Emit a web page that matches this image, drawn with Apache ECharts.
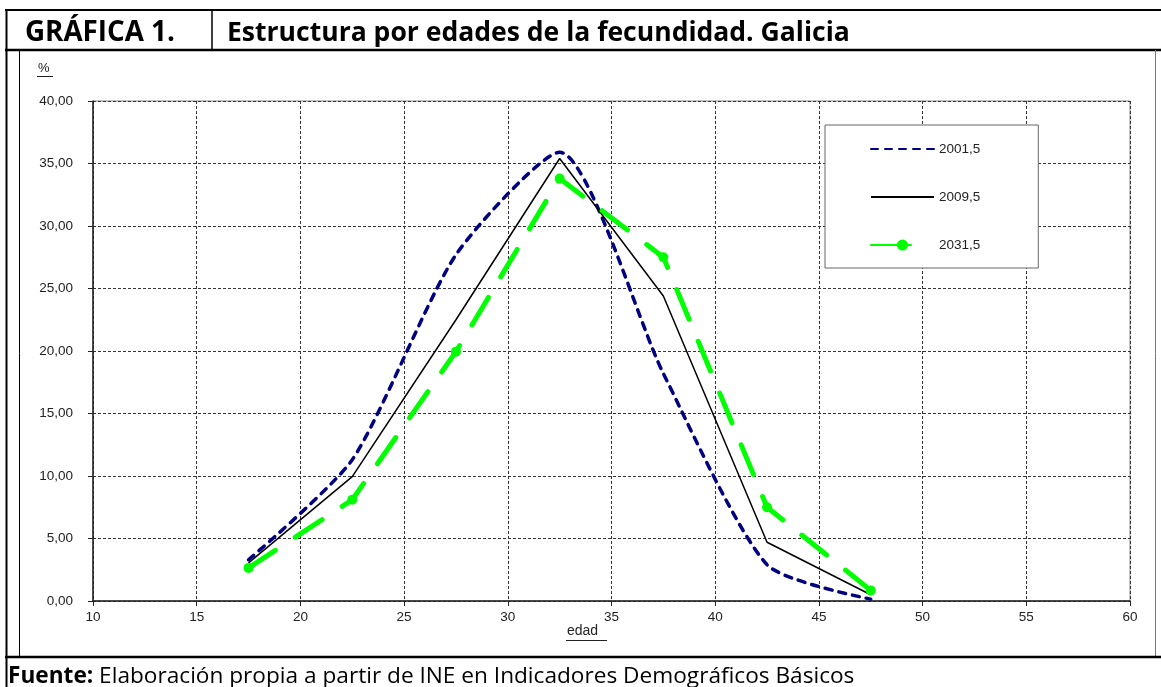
<!DOCTYPE html>
<html>
<head>
<meta charset="utf-8">
<script src="https://cdn.jsdelivr.net/npm/echarts@6/dist/echarts.min.js"></script>
<style>
html,body{margin:0;padding:0;background:#fff;}
#c{width:1161px;height:687px;}
</style>
</head>
<body>
<div id="c"></div>
<script>
// ---- data ----
const ages = [17.5, 22.5, 27.5, 32.5, 37.5, 42.5, 47.5];
const s2001 = [3.3, 11.3, 27.7, 35.9, 18.2, 2.9, 0.15];
const s2009 = [3.05, 9.95, 22.5, 35.4, 24.4, 4.7, 0.5];
const s2031 = [2.65, 8.1, 19.95, 33.8, 27.5, 7.5, 0.85];
const seriesNames = ['2001,5', '2009,5', '2031,5'];
const titleLeft = 'GRÁFICA 1.';
const titleRight = 'Estructura por edades de la fecundidad. Galicia';
const sourceLabel = 'Fuente:';
const sourceText = ' Elaboración propia a partir de INE en Indicadores Demográficos Básicos';
const yUnit = '%';
const xName = 'edad';

const pair = (vals) => ages.map((a, i) => [a, vals[i]]);
const headFont = '"Open Sans", Lato, sans-serif';
const axisFont = 'Arial, "Liberation Sans", sans-serif';

// fit a font size so text spans a target width
const ctx = document.createElement('canvas').getContext('2d');
function measure(txt, size, weight) {
  ctx.font = (weight || 'normal') + ' ' + size + 'px ' + headFont;
  return ctx.measureText(txt).width;
}
function fit(txt, target, weight) {
  return 20 * target / measure(txt, 20, weight);
}
const tl = fit(titleLeft, 150, 'bold');
const tr = fit(titleRight, 623, 'bold');
const fw = measure(sourceLabel, 20, 'bold') + measure(sourceText, 20, 'normal');
const fs = 20 * 847 / fw;

const chart = echarts.init(document.getElementById('c'), null, {renderer: 'canvas'});
chart.setOption({
  animation: false,
  backgroundColor: '#fff',
  grid: {left: 93, right: 31, top: 101, bottom: 86, show: true, borderColor: '#8a8a8a', borderWidth: 1},
  xAxis: {
    type: 'value', min: 10, max: 60, interval: 5,
    axisLine: {show: true, lineStyle: {color: '#222', width: 1.5}},
    axisTick: {show: true, length: 5, lineStyle: {color: '#222'}},
    axisLabel: {color: '#222', fontSize: 13.5, fontFamily: axisFont, margin: 9},
    splitLine: {show: true, lineStyle: {color: '#333', type: [3, 2], width: 1}}
  },
  yAxis: {
    type: 'value', min: 0, max: 40, interval: 5,
    axisLine: {show: true, lineStyle: {color: '#222', width: 1.5}},
    axisTick: {show: true, length: 5, lineStyle: {color: '#222'}},
    axisLabel: {color: '#222', fontSize: 13.5, fontFamily: axisFont, margin: 20,
      formatter: v => v.toFixed(2).replace('.', ',')},
    splitLine: {show: true, lineStyle: {color: '#333', type: [3, 2], width: 1}}
  },
  legend: {
    data: [
      {name: seriesNames[0], itemStyle: {opacity: 0}},
      {name: seriesNames[1], itemStyle: {opacity: 0}},
      {name: seriesNames[2], lineStyle: {type: [40, 40]}}
    ],
    orient: 'vertical', left: 825, top: 125,
    padding: [17, 58, 16, 45], itemWidth: 63, itemHeight: 14, itemGap: 34,
    borderColor: '#666', borderWidth: 1, backgroundColor: '#fff',
    textStyle: {color: '#222', fontSize: 13.5, fontFamily: axisFont}
  },
  graphic: [
    {type: 'line', shape: {x1: 5, y1: 10, x2: 1161, y2: 10}, style: {stroke: '#000', lineWidth: 2}},
    {type: 'line', shape: {x1: 5, y1: 50, x2: 1161, y2: 50}, style: {stroke: '#000', lineWidth: 2.5}},
    {type: 'line', shape: {x1: 212, y1: 10, x2: 212, y2: 50}, style: {stroke: '#000', lineWidth: 1.5}},
    {type: 'line', shape: {x1: 6.5, y1: 9, x2: 6.5, y2: 687}, style: {stroke: '#000', lineWidth: 2}},
    {type: 'line', shape: {x1: 19.5, y1: 50, x2: 19.5, y2: 657}, style: {stroke: '#000', lineWidth: 1}},
    {type: 'line', shape: {x1: 1155.5, y1: 50, x2: 1155.5, y2: 657}, style: {stroke: '#777', lineWidth: 1}},
    {type: 'line', shape: {x1: 5, y1: 657, x2: 1161, y2: 657}, style: {stroke: '#000', lineWidth: 2.5}},
    {type: 'text', x: 25, y: 33, style: {text: titleLeft, font: 'bold ' + tl + 'px ' + headFont, fill: '#000', verticalAlign: 'middle'}},
    {type: 'text', x: 227, y: 33, style: {text: titleRight, font: 'bold ' + tr + 'px ' + headFont, fill: '#000', verticalAlign: 'middle'}},
    {type: 'text', x: 8, y: 677, style: {text: '{b|' + sourceLabel + '}{n|' + sourceText + '}', verticalAlign: 'middle',
      rich: {
        b: {fontFamily: headFont, fontWeight: 'bold', fontSize: fs, fill: '#000', verticalAlign: 'middle'},
        n: {fontFamily: headFont, fontWeight: 'normal', fontSize: fs, fill: '#000', verticalAlign: 'middle'}
      }}},
    {type: 'text', x: 38, y: 62, style: {text: yUnit, fontSize: 13, fontFamily: axisFont, fill: '#222'}},
    {type: 'line', shape: {x1: 37, y1: 76.5, x2: 53, y2: 76.5}, style: {stroke: '#222', lineWidth: 1}},
    {type: 'text', x: 567, y: 624, style: {text: xName, fontSize: 14, fontFamily: axisFont, fill: '#222'}},
    {type: 'line', shape: {x1: 566, y1: 640.5, x2: 607, y2: 640.5}, style: {stroke: '#222', lineWidth: 1}}
  ],
  series: [
    {name: seriesNames[0], type: 'line', data: pair(s2001), smooth: 0.22, symbol: 'none',
      lineStyle: {color: '#000080', width: 3.5, type: [7, 7], cap: 'round'},
      itemStyle: {color: '#000080'}, z: 2},
    {name: seriesNames[1], type: 'line', data: pair(s2009), symbol: 'none',
      lineStyle: {color: '#000', width: 1.5},
      itemStyle: {color: '#000'}, z: 3},
    {name: seriesNames[2], type: 'line', data: pair(s2031), symbol: 'circle', symbolSize: 10,
      lineStyle: {color: '#00ff00', width: 5, type: [32, 24], cap: 'round'},
      itemStyle: {color: '#00ff00'}, z: 4}
  ]
});
</script>
</body>
</html>
